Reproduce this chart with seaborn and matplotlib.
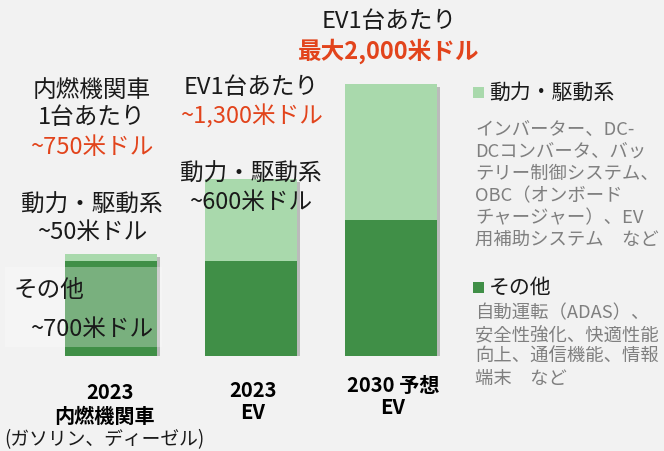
import matplotlib
matplotlib.use("Agg")
import matplotlib.pyplot as plt
import matplotlib.patheffects as pe
from matplotlib.patches import Rectangle
import pandas as pd
import seaborn as sns

# data (USD per vehicle)
categories = ["ICE 2023", "EV 2023", "EV 2030"]
powertrain = [50, 600, 1000]   # 動力・駆動系
other = [700, 700, 1000]       # その他
totals = [p + o for p, o in zip(powertrain, other)]

cat_labels = [("2023", "内燃機関車"), ("2023", "EV"), ("2030 予想", "EV")]
legend_items = ["動力・駆動系", "その他"]
legend_desc = [
    ["インバーター、DC-", "DCコンバータ、バッ", "テリー制御システム、",
     "OBC（オンボード", "チャージャー）、EV", "用補助システム　など"],
    ["自動運転（ADAS）、", "安全性強化、快適性能", "向上、通信機能、情報", "端末　など"],
]

LIGHT = "#A9D9AC"
DARK = "#408F47"
RED = "#E2441C"
BG = "#F2F2F2"
GRAY = "#7F7F7F"

sns.set_theme(style="white")
plt.rcParams["font.family"] = ["Noto Sans CJK JP", "DejaVu Sans"]

W, H = 664, 452
fig = plt.figure(figsize=(W / 100, H / 100), dpi=100, facecolor=BG)

def fx(px):
    return px / W

def fy(py):
    return 1 - py / H

ax = fig.add_axes([fx(41), fy(357), fx(420), fy(85) - fy(357)])
ax.set_facecolor(BG)

df = pd.DataFrame({"cat": categories, "total": totals, "other": other})
sns.barplot(data=df, x="cat", y="total", color=LIGHT, saturation=1, width=0.664, ax=ax)
sns.barplot(data=df, x="cat", y="other", color=DARK, saturation=1, width=0.664, ax=ax)

shadow = [pe.SimplePatchShadow(offset=(2, -2), shadow_rgbFace="#555555", alpha=0.35), pe.Normal()]
for i, p in enumerate(ax.patches):
    p.set_linewidth(0)
    if i < len(categories):
        p.set_path_effects(shadow)

ax.set_xlim(-0.5, 2.5)
ax.set_ylim(0, 2000)
ax.set_axis_off()

# semi-transparent label box over the ICE bar
fig.add_artist(Rectangle((fx(5), fy(348)), fx(157), fy(268) - fy(348),
                         transform=fig.transFigure, facecolor="white", alpha=0.3,
                         edgecolor="none", zorder=3))

fs = 17
def t(x, y, s, **kw):
    kw.setdefault("fontsize", fs)
    kw.setdefault("color", "#1a1a1a")
    fig.text(fx(x), fy(y), s, ha=kw.pop("ha", "center"), va="center", zorder=5, **kw)

# bar annotations
t(92, 90, "内燃機関車")
t(92, 118, "1台あたり")
t(92, 147, f"~{totals[0]}米ドル", color=RED)
t(92, 205, "動力・駆動系")
t(92, 233, f"~{powertrain[0]}米ドル")
t(14, 291, "その他", ha="left")
t(92, 330, f"~{other[0]}米ドル")

t(251, 88, "EV1台あたり")
t(251, 117, f"~{totals[1]:,}米ドル", color=RED)
t(251, 174, "動力・駆動系")
t(251, 203, f"~{powertrain[1]}米ドル")

t(389, 22, "EV1台あたり")
t(389, 51, f"最大{totals[2]:,}米ドル", color=RED, fontweight="bold")

# category labels
t(110, 393, cat_labels[0][0], fontsize=14.5, fontweight="bold", color="black")
t(104, 416, cat_labels[0][1], fontsize=14.5, fontweight="bold", color="black")
t(4, 440, "(ガソリン、ディーゼル)", fontsize=13.5, ha="left")
t(253, 391, cat_labels[1][0], fontsize=14.5, fontweight="bold", color="black")
t(253, 413, cat_labels[1][1], fontsize=14.5, fontweight="bold", color="black")
t(393, 386, cat_labels[2][0], fontsize=14.5, fontweight="bold", color="black")
t(393, 408, cat_labels[2][1], fontsize=14.5, fontweight="bold", color="black")

# legend
for (top, label, color, desc, dy0) in [(93, legend_items[0], LIGHT, legend_desc[0], 130),
                                       (288, legend_items[1], DARK, legend_desc[1], 313)]:
    fig.add_artist(Rectangle((fx(473), fy(top + 6)), fx(11), fy(top - 5) - fy(top + 6),
                             transform=fig.transFigure, facecolor=color, edgecolor="none"))
    t(489, top, label, ha="left", fontsize=15)
    for k, line in enumerate(desc):
        t(475, dy0 + 22 * k, line, ha="left", fontsize=13.2, color=GRAY)

fig.savefig("out.png", dpi=100, facecolor=BG)
